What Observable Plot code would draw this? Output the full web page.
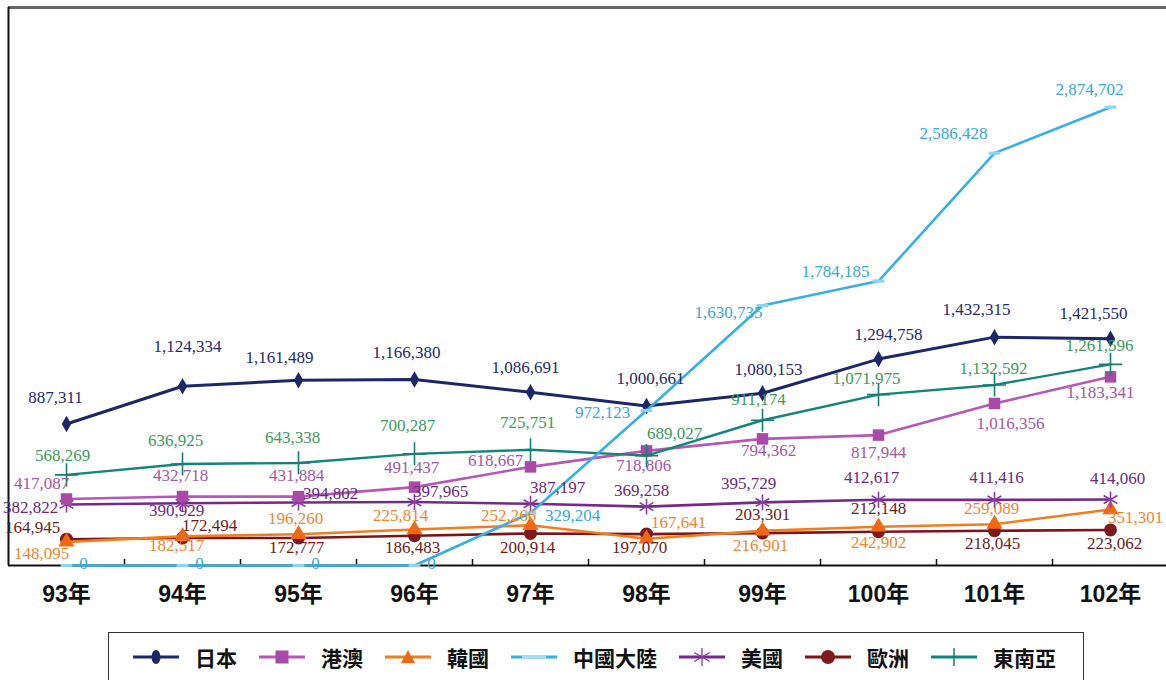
<!DOCTYPE html>
<html>
<head>
<meta charset="utf-8">
<script src="https://cdn.jsdelivr.net/npm/d3@7"></script>
<script src="https://cdn.jsdelivr.net/npm/@observablehq/plot@0.6"></script>
<style>
  html, body { margin: 0; padding: 0; background: #fff; }
  body { width: 1166px; height: 680px; overflow: hidden; position: relative; }
  #chart svg { display: block; }
  #chart g[aria-label="x-axis tick label"] text { font-weight: bold; }
  #legend {
    position: absolute; left: 108px; top: 632px; width: 976px; height: 50px;
    border: 1.5px solid #333; box-sizing: border-box; background: #fff;
    display: flex; align-items: center; padding-left: 24px;
    font-family: "Noto Sans CJK TC", "Noto Sans CJK SC", sans-serif;
    font-weight: bold; font-size: 21px; color: #111;
  }
  .item { display: flex; align-items: center; margin-right: 22px; }
  .item svg { margin-right: 16px; display: block; }
</style>
</head>
<body>
<div id="chart"></div>
<div id="legend"></div>
<script>
// ---------------- data ----------------
const years = [93, 94, 95, 96, 97, 98, 99, 100, 101, 102];
const tickLabels = ["93年", "94年", "95年", "96年", "97年", "98年", "99年", "100年", "101年", "102年"];
const seriesNames = ["日本", "港澳", "韓國", "中國大陸", "美國", "歐洲", "東南亞"];

const japan     = [887311, 1124334, 1161489, 1166380, 1086691, 1000661, 1080153, 1294758, 1432315, 1421550];
const hkMacau   = [417087, 432718, 431884, 491437, 618667, 718806, 794362, 817944, 1016356, 1183341];
const korea     = [148095, 182517, 196260, 225814, 252266, 167641, 216901, 242902, 259089, 351301];
const china     = [0, 0, 0, 0, 329204, 972123, 1630735, 1784185, 2586428, 2874702];
const usa       = [382822, 390929, 394802, 397965, 387197, 369258, 395729, 412617, 411416, 414060];
const europe    = [164945, 172494, 172777, 186483, 200914, 197070, 203301, 212148, 218045, 223062];
const seAsia    = [568269, 636925, 643338, 700287, 725751, 689027, 911174, 1071975, 1132592, 1261596];

const seriesValues = [japan, hkMacau, korea, china, usa, europe, seAsia];

// ---------------- styles (layout only) ----------------
const style = {
  "日本":     {line: "#1d2768", label: "#1f2a6b", mark: "#1d2768", sw: 3},
  "港澳":     {line: "#b459b4", label: "#a457a4", mark: "#a94aa9", sw: 2.6},
  "韓國":     {line: "#f07d1e", label: "#ef8630", mark: "#f06812", sw: 2.6},
  "中國大陸": {line: "#36b0e3", label: "#34a8dc", mark: "#8fd3ef", sw: 2.6},
  "美國":     {line: "#732b86", label: "#6a2a7c", mark: "#8a3aa0", sw: 2.6},
  "歐洲":     {line: "#7a151b", label: "#6b1d22", mark: "#7e1a1e", sw: 2.6},
  "東南亞":   {line: "#13857a", label: "#3c9a5e", mark: "#137f72", sw: 2.4}
};
// label nudges [dx, dy] in pixels, per series and year
const labelNudge = {
  "日本":     [[-11,-26],[5,-40],[-19,-23],[-8,-27],[-5,-25],[4,-27],[6,-24],[10,-25],[-18,-28],[-17,-25]],
  "港澳":     [[-25,-15],[-2,-21],[-2,-21],[-3,-20],[-35,-6],[-3,15],[6,12],[0,17],[16,20],[-10,16]],
  "韓國":     [[-25,12],[-6,9],[-3,-16],[-14,-14],[-22,-10],[32,-16],[-2,15],[0,16],[-3,-16],[25,8]],
  "中國大陸": [[17,-2],[17,-2],[17,-2],[17,-2],[42,3],[-44,2],[-34,7],[-43,-10],[-41,-20],[-21,-18]],
  "美國":     [[-36,3],[-6,7],[32,-9],[26,-11],[27,-16],[-5,-16],[-14,-19],[-7,-22],[2,-22],[7,-21]],
  "歐洲":     [[-34,-12],[27,-12],[-2,10],[-2,12],[-3,14],[-7,13],[0,-19],[0,-23],[-2,13],[4,14]],
  "東南亞":   [[-4,-19],[-7,-23],[-6,-25],[-7,-28],[-3,-27],[28,-22],[-4,-21],[-12,-16],[-1,-16],[-11,-19]]
};

// long table built from the arrays
const rows = [];
seriesNames.forEach((s, si) => {
  years.forEach((y, yi) => rows.push({series: s, year: y, value: seriesValues[si][yi], idx: yi}));
});
const bounds = years.slice(0, -1).map((y, i) => (y + years[i + 1]) / 2);

const dashSymbol = {
  draw(ctx, size) {
    const w = Math.sqrt(size) * 1.1;
    ctx.rect(-w / 2, -1.6, w, 3.2);
  }
};
const markSpec = {
  "日本":     {symbol: "diamond", r: 5, fill: true},
  "港澳":     {symbol: "square", r: 6.5, fill: true},
  "韓國":     {symbol: "triangle", r: 6, fill: true},
  "中國大陸": {symbol: dashSymbol, r: 6, fill: true},
  "美國":     {symbol: "asterisk", r: 7.5, fill: false},
  "歐洲":     {symbol: "circle", r: 6.5, fill: true},
  "東南亞":   {symbol: "plus", r: 7.5, fill: false}
};

const drawOrder = ["歐洲", "韓國", "美國", "港澳", "東南亞", "日本", "中國大陸"];
const fmt = d3.format(",");

const marks = [];
// frame pieces and axis
marks.push(Plot.ruleY([0], {stroke: "#111", strokeWidth: 2}));
marks.push(Plot.ruleY([3500000], {stroke: "#666", strokeWidth: 3}));
marks.push(Plot.ruleX([92.5], {stroke: "#111", strokeWidth: 2}));
marks.push(Plot.ruleX(bounds, {x: d => d, y1: 0, y2: 0, insetBottom: 6, stroke: "#111", strokeWidth: 1.5}));
marks.push(Plot.axisX({
  ticks: years,
  tickFormat: d => tickLabels[years.indexOf(d)],
  tickSize: 0,
  tickPadding: 20,
  label: null,
  fontSize: 23,
  fontWeight: "bold",
  fontFamily: "'Liberation Sans', 'Noto Sans CJK TC', sans-serif",
  fill: "#111"
}));

for (const s of drawOrder) {
  const data = rows.filter(r => r.series === s);
  const st = style[s], mk = markSpec[s];
  marks.push(Plot.line(data, {x: "year", y: "value", stroke: st.line, strokeWidth: st.sw}));
  marks.push(Plot.dot(data, {
    x: "year", y: "value", symbol: mk.symbol, r: mk.r,
    fill: mk.fill ? st.mark : "none",
    stroke: mk.fill ? "none" : st.mark,
    strokeWidth: mk.fill ? 0 : 1.6
  }));
}
for (const s of seriesNames) {
  const data = rows.filter(r => r.series === s);
  const st = style[s];
  data.forEach(r => {
    const [dx, dy] = labelNudge[s][r.idx];
    marks.push(Plot.text([r], {
      x: "year", y: "value", text: d => fmt(d.value), dx, dy,
      fill: st.label, fontSize: 17,
      fontFamily: "'Liberation Serif', 'DejaVu Serif', serif",
      textAnchor: "middle"
    }));
  });
}

const chart = Plot.plot({
  width: 1166,
  height: 615,
  marginTop: 7,
  marginBottom: 50,
  marginLeft: 8,
  marginRight: -2,
  x: {type: "linear", domain: [92.5, 102.5], axis: null, label: null},
  y: {domain: [0, 3500000], axis: null, label: null},
  style: {background: "#fff", overflow: "visible"},
  marks
});
document.getElementById("chart").appendChild(chart);

// ---------------- legend ----------------
const legendSym = {
  "日本":     c => `<ellipse cx="23" cy="10" rx="4.5" ry="7" fill="${c}"/>`,
  "港澳":     c => `<rect x="16.5" y="3.5" width="13" height="13" fill="${c}"/>`,
  "韓國":     c => `<path d="M23 3 L30 16 L16 16 Z" fill="${c}"/>`,
  "中國大陸": c => `<rect x="11" y="8.6" width="24" height="2.8" fill="#a8def2"/>`,
  "美國":     c => `<g stroke="${c}" stroke-width="1.3"><line x1="23" y1="1" x2="23" y2="19"/><line x1="15.2" y1="5.5" x2="30.8" y2="14.5"/><line x1="15.2" y1="14.5" x2="30.8" y2="5.5"/></g>`,
  "歐洲":     c => `<circle cx="23" cy="10" r="7" fill="${c}"/>`,
  "東南亞":   c => `<line x1="23" y1="1" x2="23" y2="19" stroke="${c}" stroke-width="1.5"/>`
};
const legend = document.getElementById("legend");
for (const s of seriesNames) {
  const st = style[s];
  const item = document.createElement("div");
  item.className = "item";
  item.innerHTML = `<svg width="46" height="20" viewBox="0 0 46 20"><line x1="0" y1="10" x2="46" y2="10" stroke="${st.line}" stroke-width="3"/>${legendSym[s](st.mark)}</svg><span>${s}</span>`;
  legend.appendChild(item);
}
</script>
</body>
</html>
